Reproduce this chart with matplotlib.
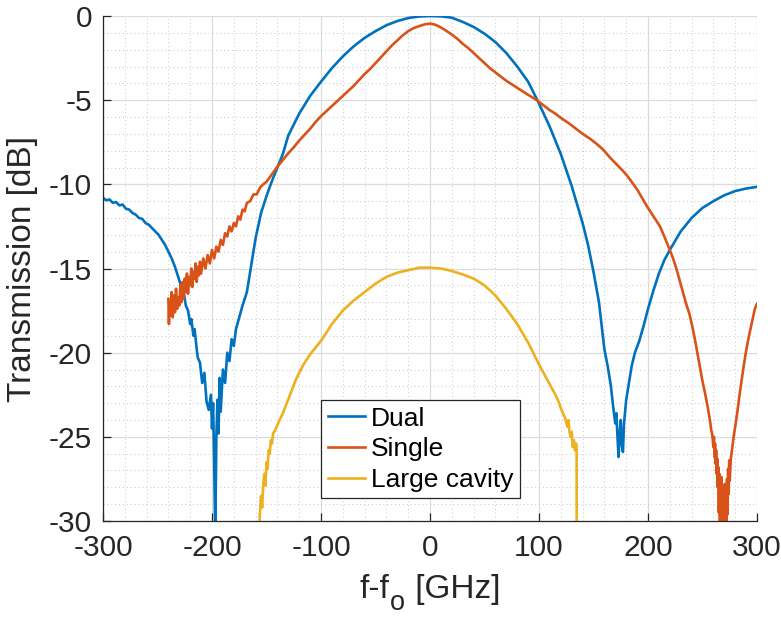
import matplotlib
matplotlib.use("Agg")
import matplotlib.pyplot as plt
from matplotlib.ticker import MultipleLocator

plt.rcParams['font.family'] = ['Liberation Sans', 'DejaVu Sans']
plt.rcParams['axes.unicode_minus'] = False

# ---------------- data ----------------
dual_x = [-300, -297, -294, -291, -288, -285, -282, -279, -276, -273, -270, -267, -264, -261, -258,
          -255, -252, -249, -246, -243, -240, -237, -234, -231, -228, -226, -224, -222, -220, -219,
          -217, -216, -214, -213, -211, -209, -207, -205, -203, -201, -200, -199, -198, -197, -196,
          -195, -194, -193, -192, -190, -188, -186, -184, -182, -180, -178, -175, -172, -168, -164,
          -160, -155, -150, -145, -140, -135, -130, -120, -110, -100, -90, -80, -70, -60, -50, -40,
          -30, -20, -10, 0, 10, 20, 30, 40, 50, 60, 70, 80, 90, 100, 110, 120, 130, 140, 145,
          150, 155, 160, 163, 166, 168, 170, 171, 172, 173, 174, 175, 176, 177, 178, 180, 182,
          185, 188, 192, 196, 200, 205, 210, 215, 220, 230, 240, 250, 260, 270, 280, 290, 300]
dual_y = [-10.8, -10.95, -10.9, -11.1, -11.05, -11.25, -11.2, -11.45, -11.5, -11.7, -11.8, -12.0, -12.05, -12.3, -12.4,
          -12.6, -12.8, -13.0, -13.3, -13.6, -14.0, -14.4, -14.9, -15.5, -16.1, -16.4, -17.2, -17.5, -18.3, -18.0,
          -19.0, -18.6, -19.8, -20.3, -20.6, -21.8, -21.2, -22.9, -23.4, -22.5, -24.5, -23.0, -26.5, -31.0, -25.0,
          -22.8, -24.8, -21.5, -23.5, -21.0, -21.8, -20.0, -20.5, -19.2, -19.6, -18.6, -17.9, -17.2, -16.4, -14.8,
          -13.2, -11.7, -10.7, -9.8, -9.0, -8.2, -7.1, -5.8, -4.75, -3.9, -3.1, -2.4, -1.8, -1.3, -0.9, -0.55,
          -0.3, -0.12, -0.03, 0.0, -0.02, -0.1, -0.35, -0.65, -1.05, -1.55, -2.2, -3.0, -3.9, -5.2, -6.6,
          -8.2, -10.1, -12.3, -13.6,
          -15.2, -17.0, -19.8, -20.8, -22.0, -23.2, -24.2, -23.6, -25.0, -26.2, -24.8, -24.0, -25.5, -25.9,
          -24.2, -22.8, -22.0,
          -20.8, -20.0, -19.3, -18.4, -17.4, -16.3, -15.3, -14.5, -13.9, -12.8, -12.0, -11.4, -11.0, -10.65,
          -10.4, -10.25, -10.15]

single_x = [-240, -239.5, -239, -238, -237, -236, -235, -234, -233, -232, -231, -230, -229, -228,
            -227, -226, -225, -224, -223, -222, -221, -220, -219, -218, -217, -216, -215, -214,
            -213, -212, -211, -210, -208, -206, -204, -202, -200, -198, -196, -194, -192, -190,
            -188, -186, -184, -182, -180, -178, -176, -174, -172, -170, -168, -165, -162, -159,
            -156, -153, -150, -145, -140, -135, -130, -125, -120, -115, -110, -105, -100, -95, -90,
            -85, -80, -75, -70, -65, -60, -55, -50, -45, -40, -35, -30, -25, -20, -15, -10, -5, 0,
            5, 10, 15, 20, 25, 30, 35, 40, 45, 50, 55, 60, 65, 70, 76, 82, 88, 93, 98, 104, 110,
            115, 120, 128, 134, 140, 147, 153, 159, 165, 171, 177, 181, 185, 190, 195, 199, 203,
            207, 211, 215, 220, 223, 226, 229, 232, 235, 238, 240.5, 243, 245.5, 248, 250, 252,
            253.5, 255, 256, 257, 258, 259, 260, 260.5, 261, 261.5, 262, 262.5, 263, 263.5, 264,
            264.5, 265, 265.5, 266, 266.5, 267, 267.5, 268, 268.5, 269, 269.5, 270, 270.5, 271,
            271.5, 272, 272.5, 273, 273.5, 274, 274.5, 275, 276, 277, 278, 279, 280, 282, 284, 286,
            288, 290, 292, 294, 296, 298, 300]
single_y = [-16.8, -18.3, -17.0, -17.8, -16.4, -17.9, -16.6, -17.6, -16.2, -17.4, -16.7, -17.2, -16.0, -17.0,
            -15.8, -16.8, -15.6, -16.4, -15.3, -16.5, -15.5, -16.0, -15.0, -16.1, -15.2, -15.6, -14.7, -15.8,
            -14.9, -15.4, -14.6, -15.3, -14.4, -15.0, -14.2, -14.7, -13.9, -14.4, -13.7, -14.0, -13.3, -13.6,
            -12.9, -13.1, -12.5, -12.8, -12.3, -12.5, -11.9, -12.1, -11.5, -11.6, -11.1, -11.0, -10.6, -10.6,
            -10.2, -10.0, -9.85, -9.4, -8.95, -8.55, -8.15, -7.8, -7.4, -7.05, -6.7, -6.3, -5.95, -5.65, -5.35,
            -5.05, -4.75, -4.45, -4.15, -3.8, -3.45, -3.15, -2.8, -2.45, -2.1, -1.75, -1.45, -1.15, -0.9, -0.72, -0.6, -0.5, -0.45,
            -0.52, -0.68, -0.88, -1.1, -1.35, -1.65, -1.9, -2.2, -2.5, -2.8, -3.1, -3.35, -3.6, -3.85, -4.1, -4.35, -4.6, -4.8, -5.0, -5.3, -5.6,
            -5.8, -6.05, -6.4, -6.7, -7.0, -7.3, -7.6, -7.95, -8.4, -8.8, -9.2, -9.5, -9.85, -10.3, -10.85, -11.3, -11.7,
            -12.1, -12.5, -13.1, -13.9, -14.4, -15.0, -15.7, -16.4, -17.1, -17.7, -18.4, -19.2, -20.1, -21.0, -21.7, -22.3,
            -22.8, -23.3, -23.7, -24.1, -24.6, -24.9, -25.6, -25.0, -26.2, -25.4, -26.6, -25.8, -27.2, -26.3, -28.0,
            -26.8, -29.5, -27.2, -31.0, -27.6, -30.2, -27.4, -31.0, -28.3, -31.0, -29.0, -30.5, -27.8, -31.0,
            -28.4, -30.8, -27.5, -29.6, -26.9, -28.4, -26.4, -27.6, -26.3, -25.8, -25.3, -24.8, -24.4, -23.5, -22.5, -21.6,
            -20.7, -19.9, -19.2, -18.6, -18.0, -17.4, -17.1]

large_x = [-157, -156, -155, -154, -153, -152, -151, -150, -149, -148, -147, -146, -145, -144, -142,
           -140, -138, -135, -132, -129, -126, -123, -120, -116, -113, -110, -105, -100, -95, -90, -85,
           -80, -75, -70, -60, -50, -40, -30, -20, -10, 0, 10, 20, 30, 40, 50, 60, 70, 80, 90, 100,
           105, 110, 115, 118, 120, 122, 124, 126, 127, 128, 129, 130, 131, 132, 133, 134, 134.5, 134.6]
large_y = [-31.0, -29.5, -28.5, -29.2, -27.8, -27.2, -27.9, -26.5, -26.9, -25.8, -26.0, -25.2, -25.4, -24.8, -24.6,
           -24.3, -24.0, -23.6, -23.1, -22.6, -22.1, -21.6, -21.2, -20.7, -20.4, -20.1, -19.7, -19.3, -18.8, -18.3, -17.9,
           -17.5, -17.2, -16.9, -16.4, -15.9, -15.5, -15.25, -15.1, -14.95, -14.95, -15.0, -15.15, -15.35, -15.6, -16.0, -16.6, -17.4, -18.3, -19.4, -20.7,
           -21.3, -21.9, -22.5, -22.9, -23.3, -23.6, -23.9, -24.4, -24.0, -24.7, -25.0, -24.7, -25.6, -25.2, -25.8, -25.4, -25.6, -31.0]

series_names = ['Dual', 'Single', 'Large cavity']
xticks = [-300, -200, -100, 0, 100, 200, 300]
yticks = [-30, -25, -20, -15, -10, -5, 0]

# ---------------- figure ----------------
fig = plt.figure(figsize=(7.81, 6.18), dpi=100)
ax = fig.add_axes([103/781, 1 - 521/618, (757-103)/781, (521-16)/618])

colors = ['#0072BD', '#D95319', '#EDB120']
for xs, ys, c, n in zip([dual_x, single_x, large_x], [dual_y, single_y, large_y], colors, series_names):
    ax.plot(xs, ys, color=c, lw=1.9, label=n, solid_joinstyle='round')

ax.set_xlim(-300, 300)
ax.set_ylim(-30, 0)
ax.set_xticks(xticks)
ax.set_xticklabels([str(v) for v in xticks])
ax.set_yticks(yticks)
ax.set_yticklabels([str(v) for v in yticks])
ax.xaxis.set_minor_locator(MultipleLocator(20))
ax.yaxis.set_minor_locator(MultipleLocator(1))

ax.grid(True, which='major', color='#dcdcdc', lw=0.9, ls='-')
ax.grid(True, which='minor', color='#c8c8c8', lw=0.7, ls=(0, (1, 3)))
ax.set_axisbelow(True)

for s in ['top', 'right']:
    ax.spines[s].set_visible(False)
for s in ['left', 'bottom']:
    ax.spines[s].set_color('#262626')
    ax.spines[s].set_linewidth(0.9)

ax.tick_params(which='major', direction='in', length=6, width=0.9, color='#262626',
               labelsize=21.5, labelcolor='#262626', pad=8)
ax.tick_params(which='minor', length=0)
ax.tick_params(axis='x', pad=9)

ax.set_ylabel('Transmission [dB]', fontsize=24, color='#262626', labelpad=8)

# x label built from pieces: "f-f", lowered subscript "o", " [GHz]"
fig.canvas.draw()
renderer = fig.canvas.get_renderer()
base_y = 1 - 598/618
pieces = [('f-f', 24, 0.0), ('o', 19.5, -12.0), (' [GHz]', 24, 0.0)]
texts = []
for s, fs, dy in pieces:
    t = fig.text(0, base_y + dy/618, s, fontsize=fs, color='#262626', va='baseline', ha='left')
    texts.append(t)
widths = [t.get_window_extent(renderer).width for t in texts]
total = sum(widths) + 2
xpos = 430 - total/2
for t, w in zip(texts, widths):
    t.set_x(xpos/781)
    xpos += w + 1

leg = ax.legend(loc='upper left', bbox_to_anchor=(321/781, 1 - 400/618),
                bbox_transform=fig.transFigure, fontsize=19, frameon=True,
                fancybox=False, edgecolor='#262626', framealpha=1,
                handlelength=1.4, handletextpad=0.25, labelspacing=0.25,
                borderpad=0.25, borderaxespad=0)
leg.get_frame().set_linewidth(0.9)
for line in leg.get_lines():
    line.set_linewidth(1.9)

fig.savefig('out.png', dpi=100)
